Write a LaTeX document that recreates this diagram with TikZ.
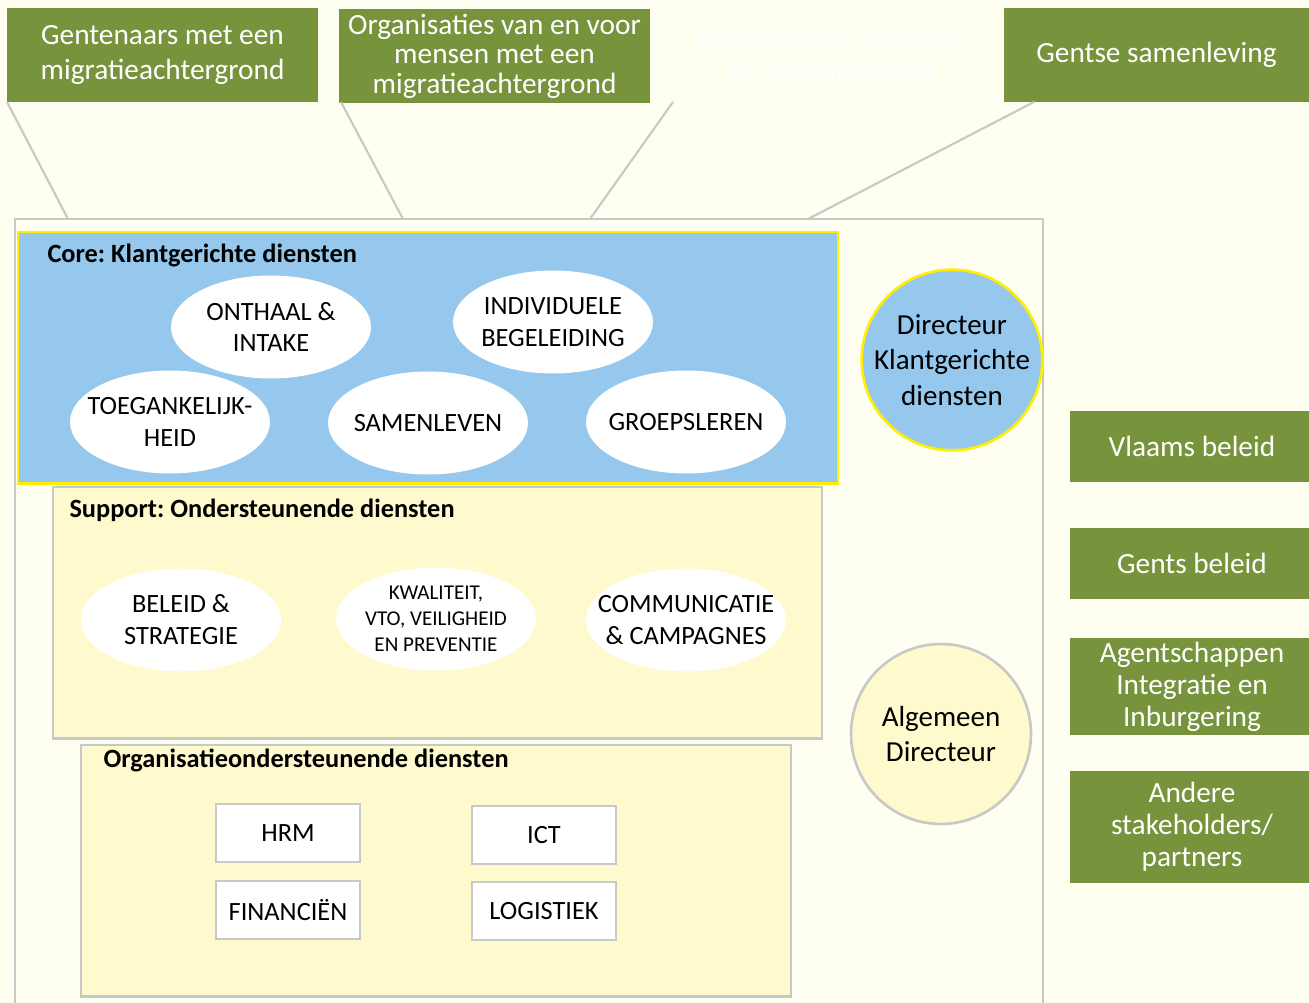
\documentclass[tikz,border=0pt]{standalone}
\usepackage{fontspec}
\setmainfont{Carlito}
\usetikzlibrary{positioning,shapes.geometric}

\definecolor{bgcream}{HTML}{FEFEF1}
\definecolor{olive}{HTML}{77933C}
\definecolor{skyblue}{HTML}{95C8EC}
\definecolor{paleyellow}{HTML}{FFF9CE}
\definecolor{brightyellow}{HTML}{FFEE00}
\definecolor{framegray}{HTML}{C8C8C8}

\begin{document}
\frenchspacing
\begin{tikzpicture}[x=0.02cm,y=-0.02cm,inner sep=2pt,outer sep=0pt,
	greenbox/.style={fill=olive,text=white,align=center,minimum width=6.22cm,minimum height=1.88cm,font=\fontsize{16.7}{20}\selectfont},
	sidebox/.style={fill=olive,text=white,align=center,minimum width=4.88cm,font=\fontsize{16.7}{18.2}\selectfont},
	layer/.style={draw=framegray,line width=1.5pt,fill=paleyellow,anchor=north west,minimum height=5.03cm},
	layertitle/.style={anchor=west,font=\bfseries\fontsize{15}{18}\selectfont},
	bubble/.style={ellipse,fill=white,inner xsep=-11pt,inner ysep=0pt,minimum width=4cm,minimum height=2.06cm,align=center,font=\fontsize{15}{18.2}\selectfont},
	unit/.style={rectangle,draw=framegray,line width=1.5pt,fill=white,minimum width=2.88cm,minimum height=1.16cm,font=\fontsize{15}{18}\selectfont},
	boss/.style={circle,line width=1.5pt,minimum size=3.6cm,inner sep=0pt,align=center,font=\fontsize{16.5}{20.2}\selectfont},
	link/.style={draw=framegray,line width=1.2pt}]
	\useasboundingbox[fill=bgcream] (0,0) rectangle (1309,1003);
	% stakeholders on top
	\node[greenbox] (gentenaars) at (162.5,55) {Gentenaars met een\\migratieachtergrond};
	\node[greenbox,font=\fontsize{16.7}{16.8}\selectfont] (organisaties) at (494.5,56) {Organisaties van en voor\\mensen met een\\migratieachtergrond};
	\node[align=center,text=white,font=\fontsize{16.7}{18}\selectfont] (voorzieningen) at (830,57) {Organisaties, diensten\\en voorzieningen};
	\node[greenbox,minimum width=6.1cm] (samenleving) at (1156.5,55) {Gentse samenleving};
	% outer frame
	\draw[draw=framegray,line width=1.5pt] (15,1010) -- (15,219) -- (1043,219) -- (1043,1010);
	\coordinate (f1) at (68,219);
	\coordinate (f2) at (403,219);
	\coordinate (f3) at (590,219);
	\coordinate (f4) at (808,219);
	\coordinate (s2) at (341,102);
	\coordinate (v) at (673,102);
	\coordinate (s4) at (1034,102);
	\draw[link] (gentenaars.south west) -- (f1);
	\draw[link] (s2) -- (f2);
	\draw[link] (v) -- (f3);
	\draw[link] (s4) -- (f4);
	% core
	\node[layer,fill=skyblue,draw=brightyellow,minimum width=16.4cm] (core) at (18,232) {};
	\node[layertitle] (coret) at (44,255) {Core: Klantgerichte diensten};
	\node[bubble] (onthaal) at (271,327) {ONTHAAL \&\\INTAKE};
	\node[bubble] (individueel) at (553,322) {INDIVIDUELE\\BEGELEIDING};
	\node[bubble] (toegang) at (170,422) {TOEGANKELIJK-\\HEID};
	\node[bubble] (samenleven) at (428,423) {SAMENLEVEN};
	\node[bubble] (groep) at (686,422) {GROEPSLEREN};
	% support
	\node[layer,minimum width=15.38cm] (support) at (53,487) {};
	\node[layertitle] (supportt) at (66,510) {Support: Ondersteunende diensten};
	\node[bubble] (beleid) at (181,620) {BELEID \&\\STRATEGIE};
	\node[bubble,font=\fontsize{12}{14.7}\selectfont] (kwaliteit) at (436,619) {KWALITEIT,\\VTO, VEILIGHEID\\EN PREVENTIE};
	\node[bubble] (communicatie) at (686,620) {COMMUNICATIE\\\& CAMPAGNES};
	% organisatieondersteunend
	\node[layer,minimum width=14.2cm] (org) at (81,745) {};
	\node[layertitle] (orgt) at (100,760) {Organisatieondersteunende diensten};
	\node[unit] (hrm) at (288,833) {HRM};
	\node[unit] (ict) at (544,835) {ICT};
	\node[unit] (fin) at (288,910) {FINANCIËN};
	\node[unit] (log) at (544,911) {LOGISTIEK};
	% directeurs
	\node[boss,fill=skyblue,draw=brightyellow] (dirk) at (952,360) {Directeur\\Klantgerichte\\diensten};
	\node[boss,fill=paleyellow,draw=framegray] (dira) at (941,734) {Algemeen\\Directeur};
	% beleid rechts
	\node[sidebox,minimum height=1.42cm] (vlaams) at (1192,446.5) {Vlaams beleid};
	\node[sidebox,minimum height=1.42cm] (gents) at (1192,563.5) {Gents beleid};
	\node[sidebox,minimum height=1.94cm] (agents) at (1192,686.5) {Agentschappen\\Integratie en\\Inburgering};
	\node[sidebox,minimum height=2.24cm] (andere) at (1192,827) {Andere\\stakeholders/\\partners};
\end{tikzpicture}
\end{document}
